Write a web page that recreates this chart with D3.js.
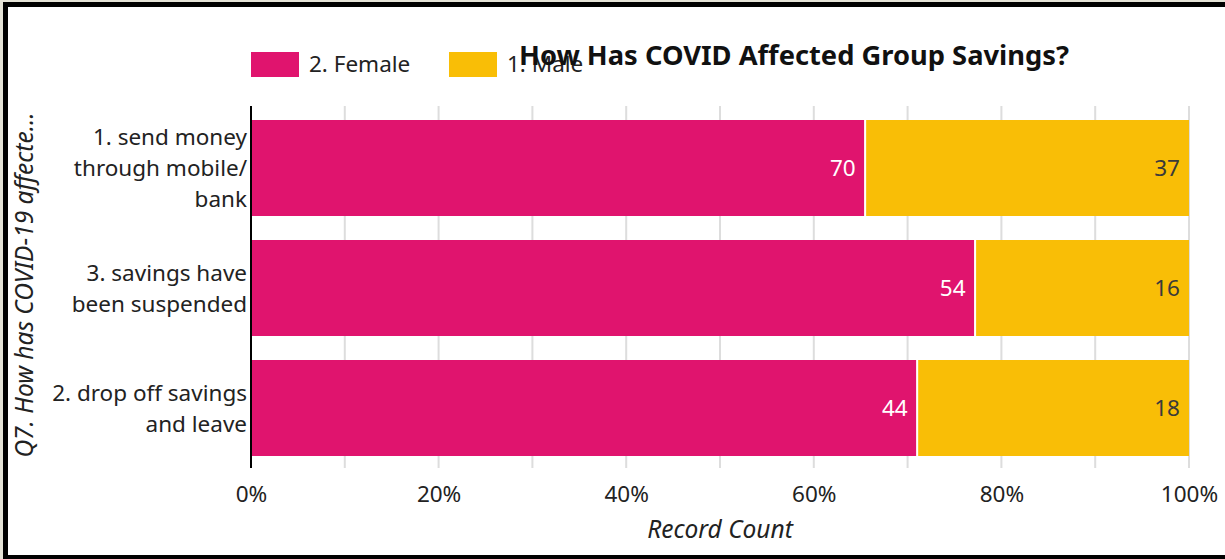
<!DOCTYPE html>
<html><head><meta charset="utf-8">
<script src="https://cdn.jsdelivr.net/npm/d3@7"></script>
<style>
html,body{margin:0;padding:0;background:#e4e2d6;overflow:hidden}
svg{display:block}
text{font-family:"Noto Sans",sans-serif;fill:#222}
</style></head>
<body>
<svg id="c" width="1225" height="559"></svg>
<script>
const categories = [
  ["1. send money","through mobile/","bank"],
  ["3. savings have","been suspended"],
  ["2. drop off savings","and leave"]
];
const seriesNames = ["2. Female","1. Male"];
const femaleValues = [70,54,44];
const maleValues = [37,16,18];
const tickValues = [0,0.2,0.4,0.6,0.8,1];
const gridValues = [0.1,0.2,0.3,0.4,0.5,0.6,0.7,0.8,0.9,1];
const colors = ["#e0146e","#f9be06"];
const labelColors = ["#ffffff","#3a3a3a"];
const titleText = "How Has COVID Affected Group Savings?";
const xTitle = "Record Count";
const yTitle = "Q7. How has COVID-19 affecte\u2026";

(function(){
const svg = d3.select("#c");
svg.append("rect").attr("x",3).attr("y",2).attr("width",1300).attr("height",600).attr("fill","#000");
svg.append("rect").attr("x",8).attr("y",7).attr("width",1300).attr("height",548).attr("fill","#fff");

const pL=251, pR=1189, pT=108, pB=468;
const x = d3.scaleLinear().domain([0,1]).range([pL,pR]);
const ids = categories.map((c,i)=>i);
const y = d3.scaleBand().domain(ids).range([pT,pB]).paddingInner(0.2).paddingOuter(0.1);

svg.append("g").selectAll("line").data(gridValues).join("line")
  .attr("x1",d=>x(d)).attr("x2",d=>x(d)).attr("y1",106).attr("y2",468)
  .attr("stroke","#dddddd").attr("stroke-width",2);

const rows = ids.map(i=>{
  const vals=[femaleValues[i],maleValues[i]];
  const tot=d3.sum(vals);
  let acc=0;
  return vals.map((v,k)=>{const s=acc/tot; acc+=v; return {i,k,v,s0:s,s1:acc/tot};});
});
const segs = rows.flat();

svg.append("g").selectAll("rect").data(segs).join("rect")
  .attr("x",d=>x(d.s0)).attr("width",d=>x(d.s1)-x(d.s0))
  .attr("y",d=>y(d.i)).attr("height",y.bandwidth())
  .attr("fill",d=>colors[d.k]);
svg.append("g").selectAll("line").data(segs.filter(d=>d.k>0)).join("line")
  .attr("x1",d=>x(d.s0)+0.5).attr("x2",d=>x(d.s0)+0.5)
  .attr("y1",d=>y(d.i)).attr("y2",d=>y(d.i)+y.bandwidth())
  .attr("stroke","#fff").attr("stroke-width",2);
svg.append("g").selectAll("text").data(segs).join("text")
  .attr("x",d=>x(d.s1)-9).attr("y",d=>y(d.i)+y.bandwidth()/2+8)
  .attr("text-anchor","end").style("font-size","22.5px")
  .style("fill",d=>labelColors[d.k]).text(d=>d.v);

svg.append("line").attr("x1",pL).attr("x2",pL).attr("y1",106).attr("y2",468)
  .attr("stroke","#000").attr("stroke-width",2);

const cat = svg.append("g").selectAll("text").data(ids).join("text")
  .attr("text-anchor","end").style("font-size","22.5px");
cat.each(function(i){
  const lines=categories[i]; const n=lines.length; const lh=31;
  const cy=y(i)+y.bandwidth()/2;
  d3.select(this).selectAll("tspan").data(lines).join("tspan")
    .attr("x",pL-4).attr("y",(d,j)=>cy+8+(j-(n-1)/2)*lh).text(d=>d);
});

const xAxis = d3.axisBottom(x).tickValues(tickValues).tickFormat(d3.format(".0%")).tickSize(0).tickPadding(0);
const gx = svg.append("g").attr("transform",`translate(0,${502})`).call(xAxis);
gx.select(".domain").remove();
gx.selectAll("text").attr("dy",0).attr("y",0).style("font-size","22.5px").style("font-family","'Noto Sans',sans-serif").attr("fill","#222");

svg.append("text").attr("x",(pL+pR)/2).attr("y",538).attr("text-anchor","middle")
  .style("font-size","24.5px").style("font-style","italic").text(xTitle);
svg.append("text").attr("transform","translate(33,285) rotate(-90)").attr("text-anchor","middle")
  .style("font-size","24.5px").style("font-style","italic").text(yTitle);

const lg = svg.append("g").selectAll("g").data(seriesNames).join("g")
  .attr("transform",(d,k)=>`translate(${[251,449][k]},52)`);
lg.append("rect").attr("width",48).attr("height",25).attr("fill",(d,k)=>colors[k]);
lg.append("text").attr("x",58).attr("y",20).style("font-size","22.5px").text(d=>d);

svg.append("text").attr("x",519).attr("y",65).style("font-size","27px").style("font-weight","bold")
  .attr("textLength",550).attr("lengthAdjust","spacingAndGlyphs").style("fill","#111").text(titleText);
})();
</script>
</body></html>
